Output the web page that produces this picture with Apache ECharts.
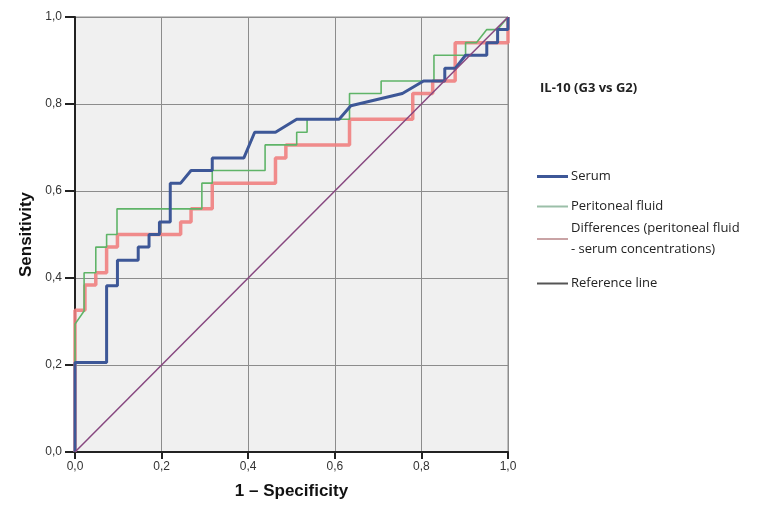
<!DOCTYPE html>
<html>
<head>
<meta charset="utf-8">
<script src="https://cdn.jsdelivr.net/npm/echarts@6/dist/echarts.min.js"></script>
<style>
  html, body { margin: 0; padding: 0; background: #fff; }
  #chart { width: 772px; height: 518px; }
</style>
</head>
<body>
<div id="chart"></div>
<script>
// ROC curves, values: [1 - specificity, sensitivity]
const serum = [
  [0, 0], [0, 0.206], [0.073, 0.206], [0.073, 0.382], [0.098, 0.382], [0.098, 0.441],
  [0.146, 0.441], [0.146, 0.471], [0.171, 0.471], [0.171, 0.5], [0.195, 0.5], [0.195, 0.529],
  [0.22, 0.529], [0.22, 0.618], [0.244, 0.618], [0.268, 0.647], [0.317, 0.647], [0.317, 0.676],
  [0.39, 0.676], [0.415, 0.735], [0.463, 0.735], [0.512, 0.765], [0.61, 0.765], [0.637, 0.796],
  [0.756, 0.824], [0.805, 0.853], [0.854, 0.853], [0.854, 0.882], [0.878, 0.882], [0.902, 0.912],
  [0.951, 0.912], [0.951, 0.941], [0.976, 0.941], [0.976, 0.971], [1, 0.971], [1, 1]
];
const peritoneal = [
  [0, 0], [0, 0.294], [0.021, 0.324], [0.021, 0.412], [0.048, 0.412], [0.048, 0.471],
  [0.073, 0.471], [0.073, 0.5], [0.097, 0.5], [0.097, 0.559], [0.293, 0.559], [0.293, 0.618],
  [0.317, 0.618], [0.317, 0.647], [0.439, 0.647], [0.439, 0.706], [0.512, 0.706], [0.512, 0.735],
  [0.536, 0.735], [0.536, 0.765], [0.634, 0.765], [0.634, 0.824], [0.707, 0.824], [0.707, 0.853],
  [0.829, 0.853], [0.829, 0.912], [0.902, 0.912], [0.902, 0.941], [0.927, 0.941], [0.951, 0.971],
  [0.976, 0.971], [1, 1]
];
const differences = [
  [0, 0], [0, 0.326], [0.023, 0.326], [0.023, 0.384], [0.048, 0.384], [0.048, 0.412],
  [0.073, 0.412], [0.073, 0.471], [0.098, 0.471], [0.098, 0.5], [0.244, 0.5], [0.244, 0.529],
  [0.268, 0.529], [0.268, 0.559], [0.317, 0.559], [0.317, 0.618], [0.463, 0.618], [0.463, 0.676],
  [0.487, 0.676], [0.487, 0.706], [0.634, 0.706], [0.634, 0.765], [0.78, 0.765], [0.78, 0.824],
  [0.826, 0.824], [0.826, 0.853], [0.878, 0.853], [0.878, 0.941], [1, 0.941], [1, 1]
];
const referenceLine = [[0, 0], [1, 1]];

const ticks = [0, 0.2, 0.4, 0.6, 0.8, 1.0];
const chartTitle = 'IL-10 (G3 vs G2)';
const names = ['Serum', 'Peritoneal fluid', 'Differences (peritoneal fluid\n- serum concentrations)', 'Reference line'];

const colors = { serum: '#3d5797', peri: '#5fb468', diff: '#f07f80', ref: '#87477f' };

const chart = echarts.init(document.getElementById('chart'));

const fmt = v => v.toFixed(1).replace('.', ',');

// one legend per entry so each can sit where it sits in the picture
const legendTops = [166, 196, 218, 273];
const legendIcons = [
  { h: 3, c: '#3d5797' },
  { h: 2, c: '#9bbfa8' },
  { h: 2, c: '#c9a3a5' },
  { h: 2, c: '#555555' }
];
const legends = names.map((n, i) => ({
  data: [{ name: n, itemStyle: { color: legendIcons[i].c } }],
  left: 537,
  top: legendTops[i],
  orient: 'vertical',
  icon: 'rect',
  itemWidth: 31,
  itemHeight: legendIcons[i].h,
  itemGap: 0,
  padding: 0,
  selectedMode: false,
  textStyle: { fontFamily: 'Open Sans', fontSize: 13, color: '#222', lineHeight: 21, padding: [0, 0, 0, -2] }
}));

const option = {
  animation: false,
  textStyle: { fontFamily: 'Liberation Sans, Arial, sans-serif' },
  title: {
    text: chartTitle,
    left: 535,
    top: 77,
    textStyle: { fontFamily: 'Open Sans', fontSize: 13, fontWeight: 'bold', color: '#222' }
  },
  legend: legends,
  grid: {
    left: 75, right: 264, top: 17, bottom: 66,
    show: true,
    backgroundColor: '#f0f0f0',
    borderColor: '#8c8c8c',
    borderWidth: 1
  },
  xAxis: {
    type: 'value',
    min: 0, max: 1, interval: 0.2,
    name: '1 \u2013 Specificity',
    nameLocation: 'middle',
    nameGap: 31,
    nameTextStyle: { fontSize: 17, fontWeight: 'bold', color: '#111' },
    axisLine: { show: true, onZero: false, lineStyle: { color: '#222', width: 2 } },
    axisTick: { show: true, length: 7, lineStyle: { color: '#222', width: 2 } },
    axisLabel: { formatter: fmt, fontSize: 12, color: '#333', margin: 9 },
    splitLine: { show: true, lineStyle: { color: '#8c8c8c', width: 1 } }
  },
  yAxis: {
    type: 'value',
    min: 0, max: 1, interval: 0.2,
    name: 'Sensitivity',
    nameLocation: 'middle',
    nameGap: 39,
    nameTextStyle: { fontSize: 17, fontWeight: 'bold', color: '#111' },
    axisLine: { show: true, onZero: false, lineStyle: { color: '#222', width: 2 } },
    axisTick: { show: true, length: 10, lineStyle: { color: '#222', width: 2 } },
    axisLabel: { formatter: fmt, fontSize: 12, color: '#333', margin: 13 },
    splitLine: { show: true, lineStyle: { color: '#8c8c8c', width: 1 } }
  },
  series: [
    {
      name: names[2], type: 'line', data: differences, showSymbol: false, symbol: 'none',
      lineStyle: { color: colors.diff, width: 3.5, opacity: 0.9 }, itemStyle: { color: colors.diff }, z: 2
    },
    {
      name: names[1], type: 'line', data: peritoneal, showSymbol: false, symbol: 'none',
      lineStyle: { color: colors.peri, width: 1.6 }, itemStyle: { color: colors.peri }, z: 3
    },
    {
      name: names[0], type: 'line', data: serum, showSymbol: false, symbol: 'none',
      lineStyle: { color: colors.serum, width: 3 }, itemStyle: { color: colors.serum }, z: 4
    },
    {
      name: names[3], type: 'line', data: referenceLine, showSymbol: false, symbol: 'none',
      lineStyle: { color: colors.ref, width: 1.5 }, itemStyle: { color: colors.ref }, z: 5
    }
  ]
};

chart.setOption(option);
</script>
</body>
</html>
